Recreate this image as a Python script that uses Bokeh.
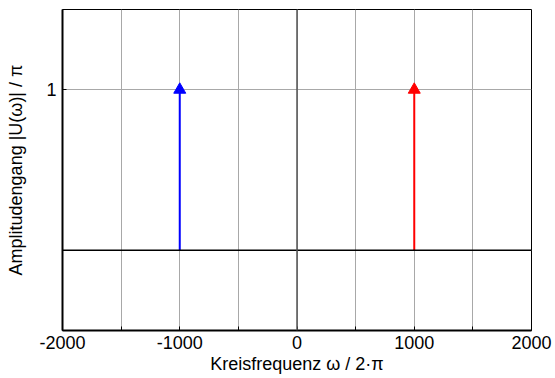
from bokeh.plotting import figure
from bokeh.models import FixedTicker, Span, ColumnDataSource
from bokeh.embed import file_html
from bokeh.resources import INLINE

# data
freqs = [-1000, 1000]
amps = [1, 1]
colors = ["#0000ff", "#ff0000"]
x_ticks = [-2000, -1500, -1000, -500, 0, 500, 1000, 1500, 2000]
x_labels = {-2000: "-2000", -1500: "", -1000: "-1000", -500: "", 0: "0",
            500: "", 1000: "1000", 1500: "", 2000: "2000"}
y_ticks = [0, 1]
y_labels = {0: "", 1: "1"}

src = ColumnDataSource(dict(x=freqs, y0=[0, 0], y1=amps, c=colors))

p = figure(width=555, height=378, output_backend="svg", toolbar_location=None,
           x_range=(-2000, 2000), y_range=(-0.5, 1.5),
           min_border_left=62, min_border_right=24, min_border_top=9, min_border_bottom=48)
p.background_fill_color = "white"
p.border_fill_color = "white"
p.outline_line_color = "black"
p.outline_line_width = 1

font = "Liberation Sans"
for ax in (p.xaxis, p.yaxis):
    ax.axis_line_width = 2
    ax.axis_line_color = "black"
    ax.major_tick_in = 4
    ax.major_tick_out = 0
    ax.minor_tick_line_color = None
    ax.major_label_text_font = font
    ax.major_label_text_font_size = "18px"
    ax.major_label_text_color = "black"
    ax.axis_label_text_font = font
    ax.axis_label_text_font_size = "18px"
    ax.axis_label_text_font_style = "normal"
    ax.axis_label_text_color = "black"

p.xaxis.ticker = FixedTicker(ticks=x_ticks)
p.xaxis.major_label_overrides = x_labels
p.yaxis.ticker = FixedTicker(ticks=y_ticks)
p.yaxis.major_label_overrides = y_labels
p.xaxis.axis_label = "Kreisfrequenz \u03c9 / 2\u00b7\u03c0"
p.yaxis.axis_label = "Amplitudengang |U(\u03c9)| / \u03c0"
p.xaxis.major_label_standoff = 5
p.xaxis.axis_label_standoff = 2
p.yaxis.major_label_standoff = 6
p.yaxis.axis_label_standoff = 17

for g in (p.xgrid, p.ygrid):
    g.grid_line_color = "#a8a8a8"
    g.grid_line_width = 1

p.add_layout(Span(location=0, dimension="width", line_color="black", line_width=1.5))
p.add_layout(Span(location=0, dimension="height", line_color="#555555", line_width=1.5))

p.segment(x0="x", y0="y0", x1="x", y1="y1", color="c", line_width=2, source=src)
p.scatter(x="x", y="y1", marker="triangle", size=12, color="c", source=src)

open("out.html", "w").write(file_html(p, INLINE))
